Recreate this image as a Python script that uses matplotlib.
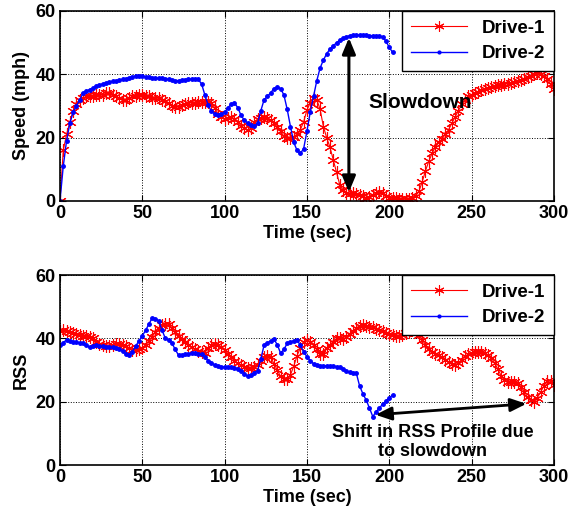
import numpy as np
import matplotlib
matplotlib.use("Agg")
import matplotlib.pyplot as plt

plt.rcParams['font.family'] = ['Liberation Sans', 'DejaVu Sans']
plt.rcParams['font.weight'] = 'bold'

# Drive-1 sampled every 2 s over 0..300 s
t1 = np.arange(0, 301, 2)
speed1 = [0, 16, 21, 25, 28.5, 30.5, 32, 32.5, 33, 33, 33, 33.5, 33.5, 33.5, 34, 34,
          33.5, 33, 32.5, 32, 32, 32.5, 33, 33, 33.5, 33.5, 33, 33, 32.5, 32.5, 32.5,
          32, 31.5, 31, 30, 29.7, 29.8, 30.2, 30.6, 31, 31, 31, 31.2, 31.3, 31.3, 31.3,
          31, 29.5, 27.5, 26.5, 26, 26.3, 26.5, 26, 25, 23.8, 23, 22.4, 23, 25, 25.8,
          26.3, 26.5, 26.2, 25.5, 24.5, 23.3, 22, 20.5, 20, 20, 20.3, 21, 22.5, 25, 28.7,
          31, 32.5, 32, 29, 23.5, 20, 17, 13, 9, 5, 3.5, 2.5, 2.2, 2.5, 2.3, 2, 1.5,
          1, 1.3, 2, 2.5, 2.9, 2.4, 1.6, 1, 0.8, 0.9, 0.7, 0.6, 0.5, 0.6, 0.9, 1.5, 3,
          6, 9.5, 12.5, 15, 17, 18.5, 19.5, 21, 22.5, 24.5, 26.5, 28.5, 30.5, 32, 33,
          33.5, 34, 34.5, 35, 35.3, 35.7, 36, 36.2, 36.5, 36.7, 37, 37, 37.2, 37.5, 38,
          38.3, 38.6, 39, 39.5, 40, 40.3, 40, 39.5, 38.5, 37, 35.5]
rss1 = [42.3, 42.5, 42.2, 42, 41.7, 41.4, 41, 40.8, 40.7, 40.5, 40, 39, 38.2, 37.8,
        37.5, 37.5, 37.8, 38.1, 38.2, 38, 37.6, 37, 36.4, 36.2, 36.5, 37, 38, 39.2,
        40.5, 42, 43.3, 44.2, 44.6, 44.4, 43.3, 42, 40.8, 39.8, 38.8, 38, 37.2, 36.6,
        36, 35.7, 35.5, 36.8, 37.9, 38.2, 38, 37.3, 36.3, 35.2, 34, 33, 32.2, 31.6,
        31, 30.6, 30.7, 31, 31.6, 33, 34.2, 34.4, 34, 32, 30, 28, 27.2, 27.3, 28.5,
        31.2, 34.5, 37, 38.8, 39.5, 38.8, 37.8, 36.5, 35, 35, 36.8, 38, 39, 40, 40,
        39.8, 40.5, 41.5, 42.3, 43.3, 44, 44.2, 43.8, 43.5, 43.5, 43, 42.6, 42.2, 41.8,
        41.4, 41, 40.7, 40.7, 41.2, 41.6, 42.1, 42.6, 42.2, 41, 39.5, 38, 36.6, 35.8,
        35.2, 34.7, 34, 33.2, 32.5, 31.8, 31.6, 32.3, 33.3, 34.3, 35, 35.4, 35.6, 35.8,
        35.8, 35.3, 34.8, 33.8, 32.3, 30.3, 28.2, 26.8, 26.3, 26.2, 26.3, 25.8, 24.7,
        23.2, 21.5, 20.5, 20, 21.3, 23.1, 25, 26.5, 26.5, 25.3]

# Drive-2 sampled every 2 s over 0..202 s
t2 = np.arange(0, 203, 2)
speed2 = [0, 11, 19, 24.5, 28, 30, 32, 34, 34.7, 35.2, 35.6, 36.2, 36.7, 37, 37.3,
          37.6, 37.8, 38, 38.2, 38.4, 38.6, 38.9, 39.2, 39.5, 39.5, 39.4, 39.2, 39,
          38.9, 38.8, 38.8, 38.7, 38.6, 38.4, 38.1, 38, 38, 38.1, 38.3, 38.4, 38.5,
          38.5, 38.4, 37, 33.5, 30.3, 28.3, 27.5, 27.3, 27.4, 28, 29.5, 30.5, 30.9,
          29.5, 27, 25.5, 24.6, 24, 23.7, 24.5, 28.5, 32, 33, 34.2, 35.5, 36, 35.5,
          33.5, 29, 23.5, 18.5, 16, 15, 16.5, 22, 28, 33, 38, 42, 44.5, 46.5, 48, 49,
          50, 50.8, 51.4, 51.9, 52.2, 52.3, 52.4, 52.4, 52.3, 52.3, 52.2, 52.2, 52.2,
          52.1, 51.8, 50.5, 48.5, 47]
rss2 = [37.9, 38.6, 39.6, 39.3, 39, 38.8, 38.6, 38.4, 37.8, 37.2, 37.6, 37.9, 37.7,
        37.5, 37.4, 37.3, 37.2, 37.1, 36.7, 36, 35.2, 34.7, 35.8, 37.5, 39.3, 40.8,
        42.5, 44.5, 46.4, 46.2, 45.5, 42.6, 40, 39.4, 38.5, 36.5, 34.7, 34.8, 35,
        35.2, 35.3, 35.3, 35.2, 35, 34.2, 33, 32.2, 31.6, 31.2, 31, 31, 30.9, 30.8,
        30.6, 30.3, 29.6, 28.8, 28.1, 28.5, 29.2, 29.8, 33.5, 37.9, 38.6, 39.2, 39.7,
        38, 35.3, 36.5, 38.4, 38.8, 39.3, 39.5, 37.8, 35.8, 34.2, 33, 32, 31.6, 31.4,
        31.3, 31.3, 31.3, 31.2, 31.1, 31, 30.3, 29.6, 29.3, 29.2, 29, 25, 22.5, 20.5,
        18, 15.3, 16.8, 18, 19.2, 20.2, 21.2, 22.1]

xticks = [0, 50, 100, 150, 200, 250, 300]
yticks = [0, 20, 40, 60]

fig = plt.figure(figsize=(5.69, 5.14), dpi=100)
ax_top = fig.add_axes([0.1054, 0.609, 0.868, 0.3696])
ax_bot = fig.add_axes([0.1054, 0.0953, 0.868, 0.3696])

# asterisk marker, like MATLAB's '*'
ASTERISK = (6, 2, 0)


def draw(ax, y1, y2, ylabel):
    ax.plot(t1, y1, color='red', marker=ASTERISK, ms=9, mew=0.8, lw=0.8, label='Drive-1')
    ax.plot(t2, y2, color='blue', marker='.', ms=5, lw=1.0, label='Drive-2')
    ax.set_xlim(0, 300)
    ax.set_ylim(0, 60)
    ax.set_xticks(xticks)
    ax.set_yticks(yticks)
    ax.grid(True, color='black', linestyle=':', linewidth=0.7)
    ax.tick_params(direction='in', top=True, right=True, length=4, labelsize=13, pad=3)
    for lab in ax.get_xticklabels() + ax.get_yticklabels():
        lab.set_fontweight('bold')
    ax.set_xlabel('Time (sec)', fontsize=13, fontweight='bold', labelpad=2)
    ax.set_ylabel(ylabel, fontsize=13, fontweight='bold', labelpad=4)
    for s in ax.spines.values():
        s.set_linewidth(1.2)
    leg = ax.legend(loc='upper right', borderaxespad=0, fancybox=False, framealpha=1,
                    edgecolor='black', handlelength=3.0, labelspacing=0.45,
                    borderpad=0.45, markerscale=0.8, prop={'size': 13.5, 'weight': 'bold'})
    leg.get_frame().set_linewidth(1.0)


draw(ax_top, speed1, speed2, 'Speed (mph)')
draw(ax_bot, rss1, rss2, 'RSS')

ax_top.annotate('', xy=(175.5, 52.4), xytext=(175.5, 1.9),
                arrowprops=dict(arrowstyle='<|-|>,head_length=0.6,head_width=0.25',
                                color='black', lw=2.2, mutation_scale=16))
ax_top.text(219, 31, 'Slowdown', ha='center', va='center', fontsize=15, fontweight='bold')

ax_bot.annotate('', xy=(190, 15.8), xytext=(285, 19.4),
                arrowprops=dict(arrowstyle='<|-|>,head_length=0.6,head_width=0.25',
                                color='black', lw=2.0, mutation_scale=16))
ax_bot.text(226.5, 7.3, 'Shift in RSS Profile due\nto slowdown', ha='center', va='center',
            fontsize=13, fontweight='bold', linespacing=1.1)

fig.savefig('out.png', dpi=100)
